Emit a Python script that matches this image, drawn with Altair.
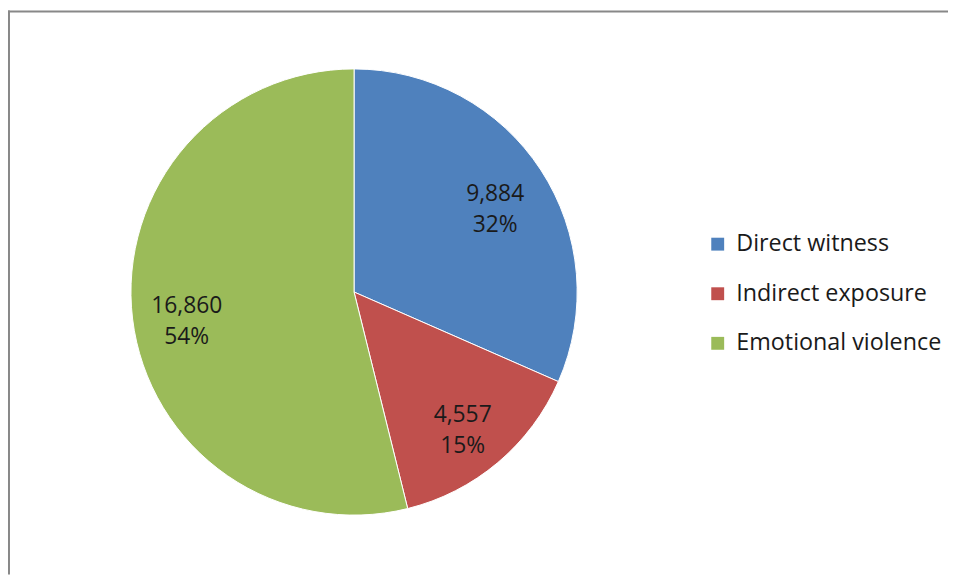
import altair as alt
import pandas as pd

categories = ["Direct witness", "Indirect exposure", "Emotional violence"]
counts = [9884, 4557, 16860]
colors = ["#4F81BD", "#C0504D", "#9BBB59"]

total = sum(counts)
labels = [f"{c:,}\n{round(100 * c / total)}%" for c in counts]
df = pd.DataFrame({
    "category": categories,
    "count": counts,
    "order": list(range(len(categories))),
    "label": labels,
})

W, H = 948, 569
CX, CY = 349, 284
FONT = "Open Sans"

base = alt.Chart(df).encode(
    theta=alt.Theta("count:Q", stack=True),
    order=alt.Order("order:Q"),
)

pie = base.mark_arc(outerRadius=225, stroke="white", strokeWidth=1).encode(
    x=alt.value(CX),
    y=alt.value(CY),
    color=alt.Color(
        "category:N",
        scale=alt.Scale(domain=categories, range=colors),
        legend=alt.Legend(
            title=None,
            orient="none",
            legendX=704,
            legendY=224,
            symbolType="square",
            symbolSize=169,
            symbolStrokeWidth=0,
            labelFont=FONT,
            labelFontSize=23.5,
            labelColor="#1a1a1a",
            labelOffset=7,
            labelLimit=0,
            rowPadding=25,
        ),
    ),
)

text = base.mark_text(
    radius=170,
    font=FONT,
    fontSize=23,
    color="#1a1a1a",
    lineBreak="\n",
    lineHeight=31,
    align="center",
    baseline="middle",
    dy=-6,
).encode(
    x=alt.value(CX),
    y=alt.value(CY),
    text="label:N",
)

frame_df = pd.DataFrame({"k": [0]})
left_rule = alt.Chart(frame_df).mark_rule(color="#888888", strokeWidth=2).encode(
    x=alt.value(1), y=alt.value(0), y2=alt.value(H)
)
top_rule = alt.Chart(frame_df).mark_rule(color="#888888", strokeWidth=2).encode(
    x=alt.value(0), x2=alt.value(W), y=alt.value(1)
)

chart = alt.layer(pie, text, left_rule, top_rule).properties(
    width=W,
    height=H,
    padding=0,
    autosize=alt.AutoSizeParams(type="none"),
).configure_view(stroke=None)

chart.save("out.html", embed_options={"renderer": "svg", "actions": False})
